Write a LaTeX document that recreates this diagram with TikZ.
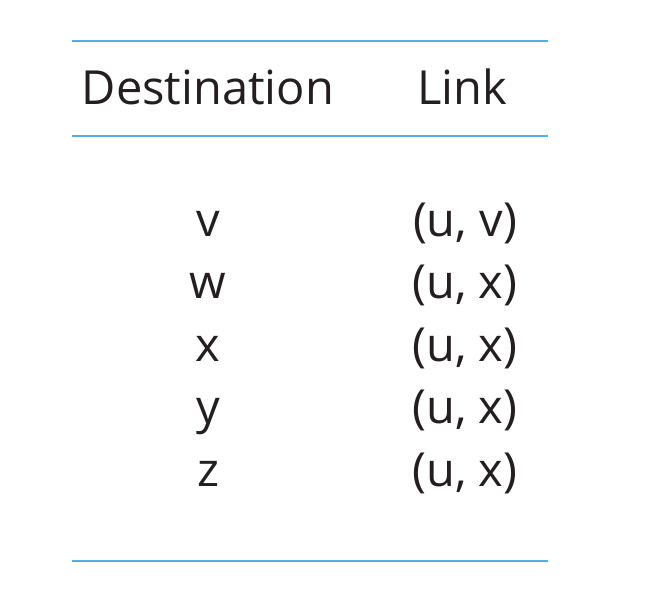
\documentclass[tikz,border=0pt]{standalone}
\usepackage{fontspec}
\setmainfont{Open Sans}
\definecolor{rule}{RGB}{80,175,232}
\definecolor{ink}{RGB}{35,31,32}
\begin{document}
\begin{tikzpicture}[x=1pt,y=-1pt,
  cell/.style={anchor=base,inner sep=0pt,text=ink,font=\fontsize{47}{47}\selectfont},
  hrule/.style={draw=rule,line width=2.5pt}]
\useasboundingbox (0,0) rectangle (660,604);
\coordinate (l1a) at (72,41); \coordinate (l1b) at (548,41);
\coordinate (l2a) at (72,136); \coordinate (l2b) at (548,136);
\coordinate (l3a) at (72,561); \coordinate (l3b) at (548,561);
\draw[hrule] (l1a) -- (l1b);
\draw[hrule] (l2a) -- (l2b);
\draw[hrule] (l3a) -- (l3b);
\node[cell] (hd) at (208,105) {Destination};
\node[cell] (hl) at (462,105) {Link};
\node[cell] (d1) at (208,236) {v};
\node[cell] (k1) at (465,236) {(u, v)};
\node[cell] (d2) at (208,298) {w};
\node[cell] (k2) at (465,298) {(u, x)};
\node[cell] (d3) at (208,361) {x};
\node[cell] (k3) at (465,361) {(u, x)};
\node[cell] (d4) at (208,423) {y};
\node[cell] (k4) at (465,423) {(u, x)};
\node[cell] (d5) at (208,486) {z};
\node[cell] (k5) at (465,486) {(u, x)};
\end{tikzpicture}
\end{document}
